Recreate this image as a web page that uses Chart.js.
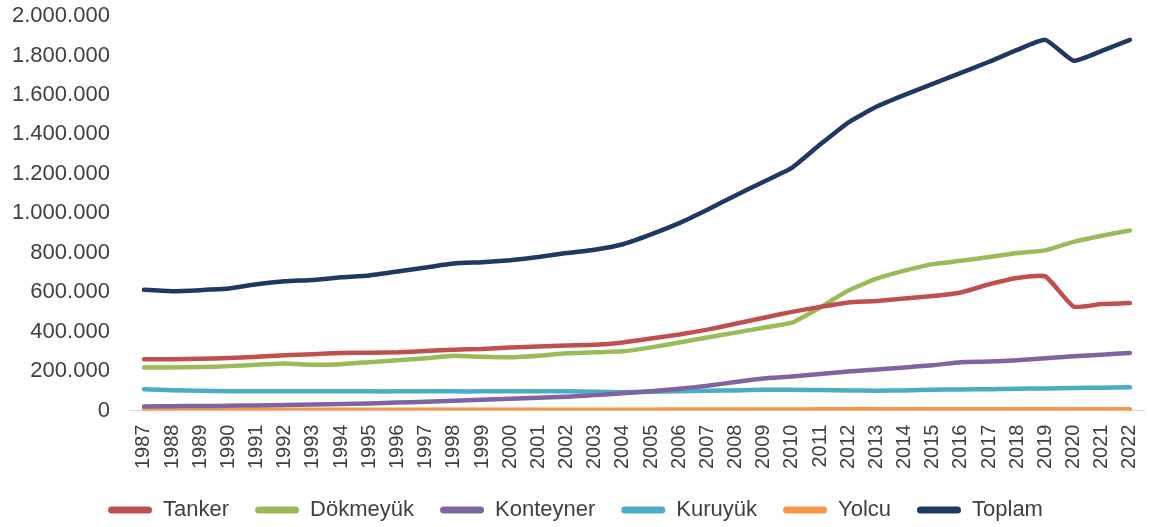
<!DOCTYPE html>
<html>
<head>
<meta charset="utf-8">
<script src="https://cdn.jsdelivr.net/npm/chart.js@4"></script>
<style>
  html, body { margin: 0; padding: 0; background: #fff; }
  #wrap { width: 1151px; height: 527px; }
</style>
</head>
<body>
<div id="wrap"><canvas id="myChart"></canvas></div>
<script>
// years on the x axis
const years = []
for (let y = 1987; y <= 2022; y++) years.push(String(y))

// series values
const tanker = [260000,260000,262000,266000,272000,280000,285000,292000,293000,295000,302000,308000,312000,320000,325000,330000,333000,345000,365000,385000,410000,440000,470000,500000,525000,548000,555000,568000,580000,598000,640000,672000,680000,527000,540000,545000]
const dokmeyuk = [218000,218000,220000,225000,232000,238000,232000,235000,245000,255000,265000,278000,272000,270000,278000,290000,295000,300000,320000,345000,370000,395000,420000,445000,522000,608000,668000,709000,742000,759000,778000,798000,812000,855000,886000,913000]
const konteyner = [20000,22000,23000,24000,26000,28000,30000,33000,36000,40000,45000,50000,55000,60000,65000,70000,78000,88000,98000,110000,125000,145000,162000,172000,185000,198000,208000,218000,230000,245000,248000,255000,265000,275000,283000,292000]
const kuruyuk = [108000,103000,100000,98000,98000,98000,98000,98000,97000,97000,97000,97000,97000,98000,98000,97000,95000,93000,95000,98000,100000,102000,105000,105000,104000,102000,100000,102000,105000,107000,108000,110000,112000,114000,116000,118000]
const yolcu = [4000,4000,4000,4000,4000,4000,4000,4000,4000,4000,4000,4000,4000,4000,4000,4000,4000,4000,4000,5000,5000,5000,5000,5000,6000,7000,7000,7000,7000,7000,7000,7000,7000,7000,7000,7000]
const toplam = [612000,605000,610000,618000,640000,655000,662000,675000,685000,705000,725000,745000,752000,762000,778000,798000,815000,843000,893000,950000,1018000,1090000,1160000,1230000,1348000,1460000,1540000,1600000,1656000,1712000,1768000,1828000,1879000,1773000,1823000,1879000]

const seriesNames = ["Tanker", "Dökmeyük", "Konteyner", "Kuruyük", "Yolcu", "Toplam"]
const seriesData = [tanker, dokmeyuk, konteyner, kuruyuk, yolcu, toplam]
const seriesColors = ["#c0504d", "#9bbb59", "#8064a2", "#4bacc6", "#f79646", "#1f3864"]

const datasets = seriesNames.map(function (name, i) {
  return {
    label: name,
    data: seriesData[i],
    borderColor: seriesColors[i],
    backgroundColor: seriesColors[i],
    borderWidth: 4.5,
    borderCapStyle: 'round',
    borderJoinStyle: 'round',
    pointRadius: 0,
    tension: 0.15
  }
})

function dotted(v) {
  return String(v).replace(/\B(?=(\d{3})+(?!\d))/g, ".")
}

Chart.defaults.font.family = "'Liberation Sans', Arial, sans-serif"
Chart.defaults.color = "#404040"

const chart = new Chart(document.getElementById('myChart'), {
  type: 'line',
  data: { labels: years, datasets: datasets },
  options: {
    responsive: true,
    maintainAspectRatio: false,
    animation: false,
    layout: { padding: 0 },
    scales: {
      x: {
        offset: true,
        grid: { display: false },
        border: { display: true, color: "#d9d9d9", width: 1 },
        ticks: { minRotation: 90, maxRotation: 90, autoSkip: false, font: { size: 20 }, padding: 6 },
        afterFit: function (s) {
          s.height -= 2
          s.paddingRight = 7
        }
      },
      y: {
        min: 0,
        max: 2000000,
        grid: { display: false },
        border: { display: false },
        ticks: { stepSize: 200000, font: { size: 22 }, padding: 12, callback: function (v) { return dotted(v) } },
        afterFit: function (s) {
          s.paddingTop = 16
        }
      }
    },
    plugins: {
      tooltip: { enabled: false },
      legend: {
        position: 'bottom',
        labels: {
          boxWidth: 44,
          boxHeight: 7,
          padding: 26,
          font: { size: 22 },
          color: "#404040",
          useBorderRadius: true,
          borderRadius: 3.5,
          generateLabels: function (chart) {
            return Chart.defaults.plugins.legend.labels.generateLabels(chart).map(function (l) {
              l.lineWidth = 0
              return l
            })
          }
        }
      }
    }
  }
})

// wide gaps between legend items but a flatter legend box
const legendFit = chart.legend.fit
chart.legend.fit = function () {
  legendFit.call(this)
  this.height = 54
}
chart.update()
</script>
</body>
</html>
